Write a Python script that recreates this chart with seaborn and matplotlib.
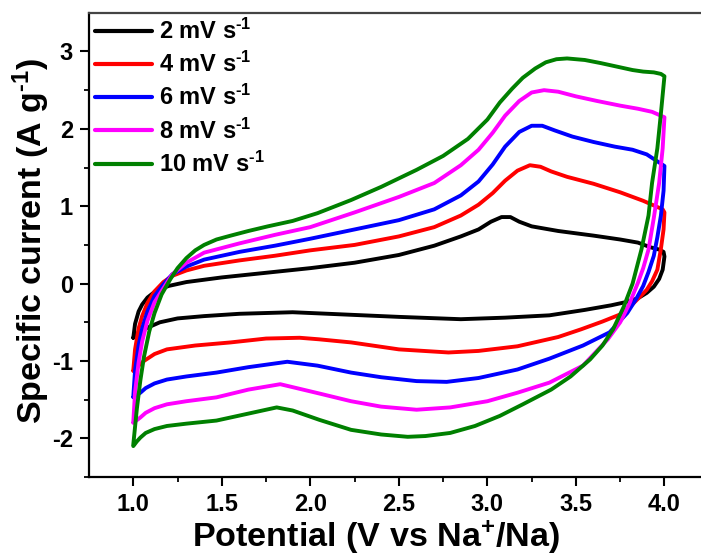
import pandas as pd
import matplotlib
matplotlib.use("Agg")
import matplotlib.pyplot as plt
import seaborn as sns

# scan rates and colours
rates = ["2 mV s$^{\\text{-}1}$", "4 mV s$^{\\text{-}1}$", "6 mV s$^{\\text{-}1}$",
         "8 mV s$^{\\text{-}1}$", "10 mV s$^{\\text{-}1}$"]
colors = ["black", "#ff0000", "#0000ff", "#ff00ff", "#008000"]

# each loop: anodic sweep 1.0 -> 4.0, then cathodic sweep back to 1.0
v2 = [1.00, 1.01, 1.03, 1.05, 1.08, 1.13, 1.20, 1.30, 1.50, 1.75, 2.00, 2.25, 2.50, 2.70, 2.85,
      2.95, 3.02, 3.08, 3.13, 3.18, 3.25, 3.40, 3.60, 3.75, 3.85, 3.92, 3.97, 3.995, 4.00, 3.99,
      3.97, 3.94, 3.90, 3.85, 3.78, 3.70, 3.55, 3.35, 3.10, 2.85, 2.50, 2.20, 1.90, 1.60, 1.40,
      1.25, 1.15, 1.10, 1.06, 1.03, 1.00]
i2 = [-0.70, -0.52, -0.36, -0.27, -0.18, -0.09, -0.03, 0.02, 0.08, 0.14, 0.20, 0.27, 0.37, 0.49, 0.61,
      0.70, 0.80, 0.86, 0.86, 0.80, 0.74, 0.68, 0.62, 0.57, 0.53, 0.47, 0.44, 0.41, 0.35, 0.18,
      0.06, -0.04, -0.12, -0.19, -0.24, -0.28, -0.34, -0.41, -0.44, -0.46, -0.43, -0.40, -0.37, -0.39, -0.42,
      -0.45, -0.50, -0.55, -0.59, -0.63, -0.70]

v4 = [1.00, 1.01, 1.03, 1.05, 1.08, 1.12, 1.17, 1.22, 1.30, 1.40, 1.60, 1.80, 2.00, 2.25, 2.50,
      2.70, 2.85, 2.95, 3.03, 3.10, 3.17, 3.24, 3.30, 3.36, 3.45, 3.60, 3.75, 3.88, 3.95, 3.99,
      4.00, 3.995, 3.98, 3.96, 3.93, 3.90, 3.84, 3.77, 3.65, 3.53, 3.40, 3.17, 2.95, 2.78, 2.50,
      2.23, 2.05, 1.94, 1.75, 1.55, 1.35, 1.19, 1.12, 1.06, 1.03, 1.00]
i4 = [-1.12, -0.85, -0.58, -0.42, -0.25, -0.10, 0.02, 0.10, 0.17, 0.23, 0.30, 0.36, 0.43, 0.50, 0.61,
      0.73, 0.88, 1.02, 1.17, 1.33, 1.46, 1.53, 1.51, 1.45, 1.38, 1.29, 1.18, 1.07, 1.00, 0.96,
      0.92, 0.70, 0.45, 0.18, 0.03, -0.08, -0.22, -0.38, -0.49, -0.59, -0.69, -0.81, -0.87, -0.89, -0.85,
      -0.76, -0.72, -0.70, -0.71, -0.76, -0.80, -0.85, -0.91, -1.00, -1.06, -1.13]

v6 = [1.00, 1.01, 1.03, 1.05, 1.08, 1.12, 1.17, 1.22, 1.30, 1.40, 1.60, 1.80, 2.00, 2.25, 2.50,
      2.70, 2.85, 2.95, 3.03, 3.10, 3.18, 3.25, 3.31, 3.38, 3.48, 3.60, 3.72, 3.82, 3.90, 3.96,
      4.00, 3.995, 3.98, 3.96, 3.94, 3.91, 3.88, 3.84, 3.79, 3.69, 3.54, 3.35, 3.17, 2.95, 2.77,
      2.60, 2.40, 2.23, 2.04, 1.87, 1.65, 1.47, 1.30, 1.19, 1.12, 1.07, 1.04, 1.00]
i6 = [-1.46, -1.12, -0.80, -0.58, -0.36, -0.16, -0.01, 0.12, 0.22, 0.31, 0.41, 0.49, 0.58, 0.70, 0.82,
      0.96, 1.14, 1.32, 1.54, 1.77, 1.96, 2.04, 2.04, 1.98, 1.90, 1.83, 1.77, 1.73, 1.67, 1.58,
      1.52, 1.20, 0.88, 0.60, 0.36, 0.15, -0.03, -0.20, -0.38, -0.63, -0.80, -0.97, -1.11, -1.22, -1.27,
      -1.26, -1.21, -1.15, -1.06, -1.01, -1.08, -1.15, -1.20, -1.24, -1.29, -1.35, -1.41, -1.47]

v8 = [1.00, 1.01, 1.03, 1.05, 1.08, 1.12, 1.17, 1.22, 1.30, 1.40, 1.60, 1.80, 2.00, 2.25, 2.50,
      2.70, 2.85, 2.95, 3.03, 3.10, 3.18, 3.25, 3.32, 3.40, 3.50, 3.62, 3.75, 3.85, 3.93, 4.00,
      3.99, 3.97, 3.94, 3.91, 3.88, 3.85, 3.80, 3.75, 3.68, 3.54, 3.35, 3.17, 3.00, 2.79, 2.60,
      2.40, 2.23, 2.05, 1.83, 1.65, 1.47, 1.30, 1.19, 1.12, 1.07, 1.04, 1.00]
i8 = [-1.79, -1.40, -1.02, -0.75, -0.48, -0.24, -0.06, 0.12, 0.27, 0.40, 0.52, 0.63, 0.73, 0.92, 1.12,
      1.30, 1.53, 1.73, 1.95, 2.17, 2.36, 2.47, 2.50, 2.48, 2.42, 2.36, 2.30, 2.26, 2.22, 2.15,
      1.75, 1.30, 0.85, 0.44, 0.20, 0.01, -0.27, -0.50, -0.72, -1.06, -1.28, -1.41, -1.52, -1.60, -1.63,
      -1.59, -1.52, -1.42, -1.30, -1.37, -1.47, -1.52, -1.56, -1.61, -1.67, -1.73, -1.80]

v10 = [1.00, 1.01, 1.02, 1.04, 1.06, 1.09, 1.12, 1.16, 1.21, 1.25, 1.30, 1.35, 1.40, 1.47, 1.55,
       1.65, 1.76, 1.90, 2.04, 2.23, 2.40, 2.60, 2.75, 2.89, 3.00, 3.07, 3.14, 3.20, 3.27, 3.33,
       3.39, 3.45, 3.55, 3.64, 3.74, 3.82, 3.88, 3.94, 3.98, 4.00, 3.98, 3.96, 3.93, 3.91, 3.87,
       3.82, 3.77, 3.71, 3.65, 3.58, 3.47, 3.36, 3.20, 3.07, 2.93, 2.79, 2.65, 2.55, 2.40, 2.23,
       2.05, 1.90, 1.81, 1.65, 1.47, 1.30, 1.19, 1.12, 1.07, 1.04, 1.02, 1.00]
i10 = [-2.08, -1.85, -1.62, -1.25, -0.95, -0.62, -0.38, -0.14, 0.06, 0.20, 0.33, 0.43, 0.50, 0.57, 0.62,
       0.68, 0.74, 0.81, 0.91, 1.08, 1.25, 1.47, 1.65, 1.87, 2.12, 2.34, 2.52, 2.66, 2.78, 2.86,
       2.90, 2.91, 2.89, 2.85, 2.80, 2.76, 2.74, 2.73, 2.71, 2.68, 2.20, 1.75, 1.30, 0.88, 0.44,
       0.00, -0.30, -0.59, -0.80, -0.98, -1.20, -1.37, -1.56, -1.71, -1.84, -1.93, -1.97, -1.98, -1.95, -1.89,
       -1.76, -1.64, -1.60, -1.68, -1.77, -1.81, -1.84, -1.88, -1.93, -1.99, -2.04, -2.10]

loops = [(v2, i2), (v4, i4), (v6, i6), (v8, i8), (v10, i10)]
frames = []
for rate, (v, i) in zip(rates, loops):
    frames.append(pd.DataFrame({"Potential": v, "Current": i, "Rate": rate}))
df = pd.concat(frames, ignore_index=True)

sns.set_style("ticks")
plt.rcParams["font.family"] = ["Liberation Sans", "DejaVu Sans"]
plt.rcParams["font.weight"] = "bold"
plt.rcParams["mathtext.fontset"] = "custom"
plt.rcParams["mathtext.rm"] = "Liberation Sans:bold"
plt.rcParams["mathtext.bf"] = "Liberation Sans:bold"
plt.rcParams["mathtext.default"] = "bf"
plt.rcParams["axes.unicode_minus"] = False
for key in ["text.color", "axes.labelcolor", "xtick.color", "ytick.color", "axes.edgecolor"]:
    plt.rcParams[key] = "black"

fig = plt.figure(figsize=(7.01, 5.56), dpi=100)
ax = fig.add_axes([0.127, 0.142, 0.884, 0.835])

sns.lineplot(data=df, x="Potential", y="Current", hue="Rate", palette=colors,
             sort=False, estimator=None, linewidth=2.8, ax=ax, legend=False)

for c, r in zip(colors, rates):
    ax.plot([], [], color=c, linewidth=3, label=r)
ax.legend(loc="upper left", bbox_to_anchor=(0.0, 1.0), frameon=False, fontsize=17,
          handlelength=2.4, handletextpad=0.3, labelspacing=0.34, borderpad=0.1,
          borderaxespad=0.15)

ax.set_xlim(0.75, 4.25)
ax.set_ylim(-2.5, 3.5)
ax.set_xticks([1.0, 1.5, 2.0, 2.5, 3.0, 3.5, 4.0])
ax.set_xticks([1.25, 1.75, 2.25, 2.75, 3.25, 3.75], minor=True)
ax.set_yticks([-2, -1, 0, 1, 2, 3])
ax.set_yticks([-2.5, -1.5, -0.5, 0.5, 1.5, 2.5], minor=True)
ax.set_xticklabels(["1.0", "1.5", "2.0", "2.5", "3.0", "3.5", "4.0"])
ax.set_yticklabels(["-2", "-1", "0", "1", "2", "3"])
ax.tick_params(which="major", direction="out", length=6.5, width=1.5, labelsize=17, pad=5)
ax.tick_params(which="minor", direction="out", length=3.5, width=1.3)

for s in ax.spines.values():
    s.set_linewidth(1.6)
    s.set_color("black")
ax.spines["top"].set_color("#444444")

ax.set_xlabel("Potential (V vs Na$^{+}$/Na)", fontsize=24.6, fontweight="bold")
ax.set_ylabel("Specific current (A g$^{\\text{-}1}$)", fontsize=24.5, fontweight="bold")
ax.xaxis.set_label_coords(0.464, -0.088)
ax.yaxis.set_label_coords(-0.06, 0.51)

fig.savefig("out.png", dpi=100)
